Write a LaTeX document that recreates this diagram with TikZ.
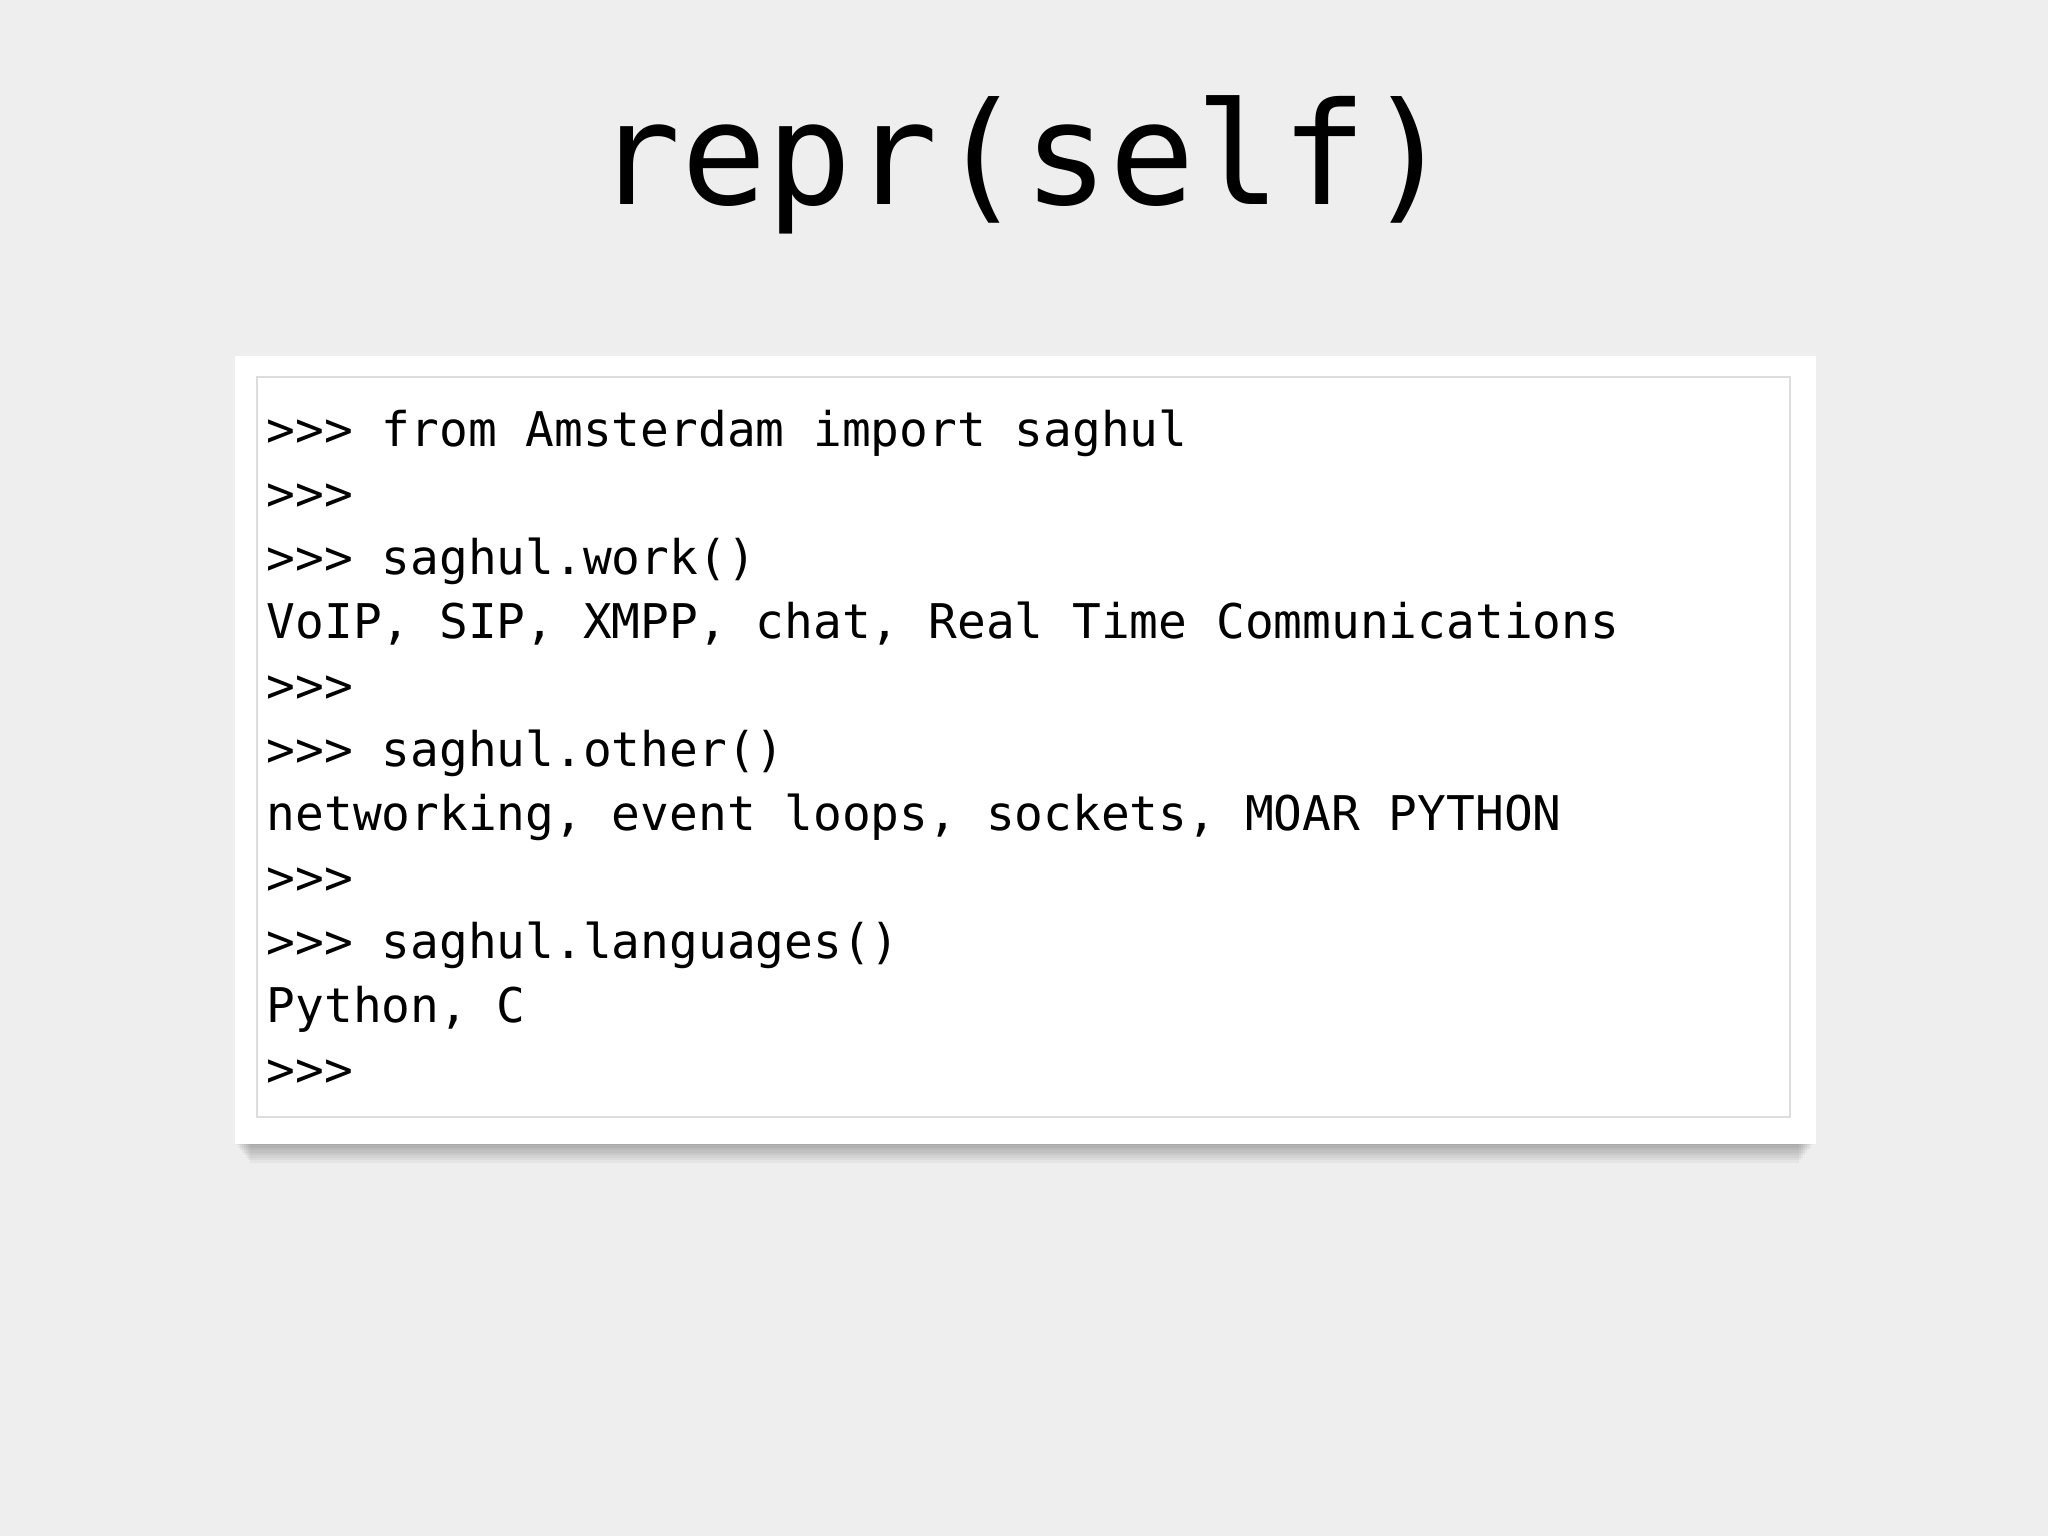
\documentclass[tikz,border=0pt]{standalone}
\usepackage{fontspec}
\setmonofont{DejaVu Sans Mono}
\definecolor{bg}{HTML}{EEEEEE}
\definecolor{frame}{HTML}{DDDDDD}
\tikzset{codeline/.style={anchor=base west,inner sep=0pt,font=\fontsize{13.6}{14}\selectfont\ttfamily}}
\begin{document}
\begin{tikzpicture}
\fill[bg] (0,0) rectangle (20.48,15.36);
\useasboundingbox (0,0) rectangle (20.48,15.36);
\node[font=\fontsize{40.5}{42}\selectfont\ttfamily] (title) at (10.24,13.71) {repr(self)};
\foreach \k in {1,...,8}
  \fill[black,opacity=0.04] (2.34+0.02*\k,11.6-0.02*\k) rectangle (18.15-0.02*\k,3.93-0.025*\k);
\node[fill=white,minimum width=15.81cm,minimum height=7.88cm,anchor=north west,inner sep=0pt] (card) at (2.34,11.81) {};
\draw[frame,line width=0.8pt] (2.57,11.59) rectangle (17.90,4.19);
\foreach \t [count=\i from 0] in {
{>>> from Amsterdam import saghul},
{>>>},
{>>> saghul.work()},
{VoIP, SIP, XMPP, chat, Real Time Communications},
{>>>},
{>>> saghul.other()},
{networking, event loops, sockets, MOAR PYTHON},
{>>>},
{>>> saghul.languages()},
{Python, C},
{>>>}}
  \node[codeline] (l\i) at (2.66,10.89-0.64*\i) {\t};
\end{tikzpicture}
\end{document}
